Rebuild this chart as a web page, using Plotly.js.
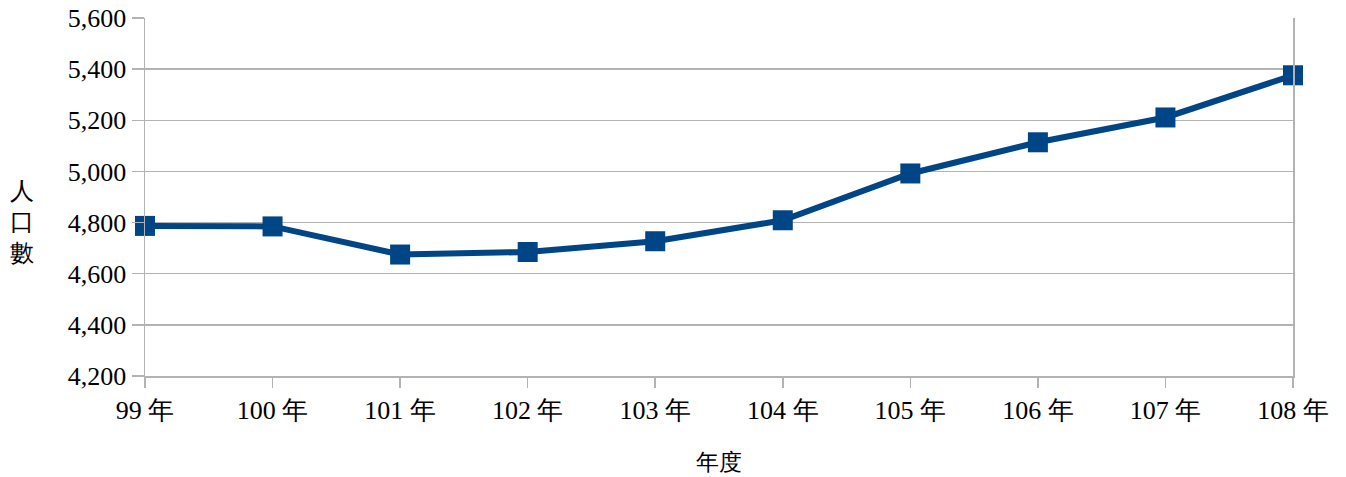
<!DOCTYPE html>
<html>
<head>
<meta charset="utf-8">
<script src="https://cdn.plot.ly/plotly-3.0.1.min.js"></script>
<style>
html,body{margin:0;padding:0;background:#fff;}
#chart{width:1346px;height:477px;}
</style>
</head>
<body>
<div id="chart"></div>
<script>
const categories = ["99 年","100 年","101 年","102 年","103 年","104 年","105 年","106 年","107 年","108 年"];
const population = [4787, 4785, 4675, 4685, 4727, 4809, 4992, 5114, 5211, 5376];
const yTickValues = [4200, 4400, 4600, 4800, 5000, 5200, 5400, 5600];
const xTitle = "年度";
const yTitle = "人<br>口<br>數";

const FONT = "Liberation Serif, Times New Roman, serif";

const trace = {
  x: categories,
  y: population,
  type: "scatter",
  mode: "lines+markers",
  line: {color: "#004586", width: 6},
  marker: {symbol: "square", size: 20, color: "#004586"},
  cliponaxis: false,
  hoverinfo: "x+y"
};

const layout = {
  width: 1346,
  height: 477,
  margin: {l: 145, r: 53, t: 18, b: 101},
  paper_bgcolor: "#ffffff",
  plot_bgcolor: "#ffffff",
  showlegend: false,
  font: {family: FONT, size: 26, color: "#000000"},
  xaxis: {
    type: "category",
    range: [0, categories.length - 1],
    showgrid: false,
    zeroline: false,
    showline: true,
    linecolor: "#b3b3b3",
    linewidth: 1.5,
    ticks: "outside",
    ticklen: 10,
    tickwidth: 1.5,
    tickcolor: "#b3b3b3",
    tickfont: {family: FONT, size: 26, color: "#000"},
    title: {text: xTitle, font: {family: FONT, size: 23, color: "#000"}, standoff: 30}
  },
  yaxis: {
    range: [4200, 5600],
    tickvals: yTickValues,
    ticktext: yTickValues.map(v => v.toLocaleString("en-US")),
    showgrid: true,
    gridcolor: "#b3b3b3",
    gridwidth: 1.5,
    zeroline: false,
    showline: true,
    mirror: true,
    linecolor: "#b3b3b3",
    linewidth: 1.5,
    ticks: "outside",
    ticklen: 12,
    tickwidth: 1.5,
    tickcolor: "#b3b3b3",
    tickfont: {family: FONT, size: 26, color: "#000"}
  },
  annotations: [{
    text: yTitle,
    xref: "paper", yref: "paper",
    x: -0.107, y: 0.43,
    xanchor: "center", yanchor: "middle",
    showarrow: false,
    align: "center",
    font: {family: FONT, size: 24, color: "#000"}
  }]
};

Plotly.newPlot("chart", [trace], layout, {displayModeBar: false, staticPlot: true});
</script>
</body>
</html>
